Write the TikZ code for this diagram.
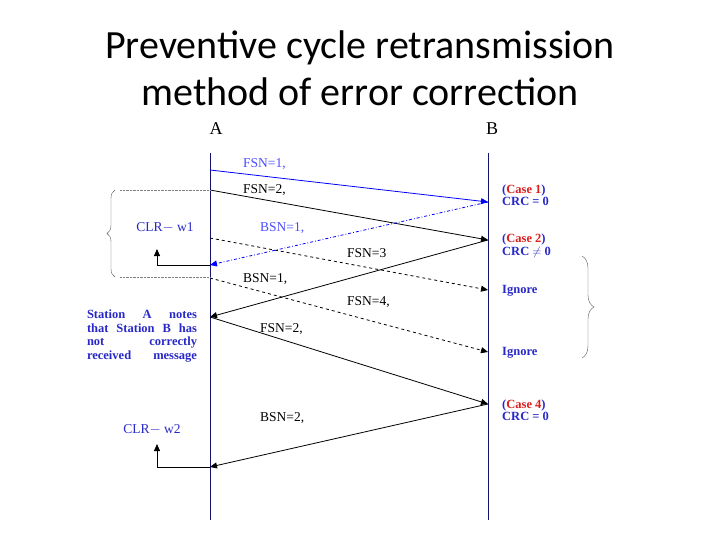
\documentclass[tikz,border=0pt]{standalone}
\usepackage{fontspec}
\setmainfont{Liberation Serif}
\newfontfamily\titlefont{Carlito}
\usetikzlibrary{arrows.meta,decorations.pathreplacing}
\definecolor{lblue}{RGB}{40,40,200}
\definecolor{lred}{RGB}{220,30,30}
\definecolor{navy}{RGB}{20,20,110}
\newcommand{\jline}[1]{\makebox[110pt][s]{#1}}
\tikzset{
  lbl/.style={font=\fontsize{13.5}{14}\selectfont,inner sep=0pt},
  blbl/.style={anchor=west,align=left,inner sep=0pt,text=lblue,font=\fontsize{12.5}{12.5}\selectfont\bfseries},
  msg/.style={line width=0.8pt,-{Triangle[length=7pt,width=6pt]}},
  life/.style={draw=navy,line width=0.9pt}
}
\begin{document}
\begin{tikzpicture}[x=1pt,y=-1pt]
\useasboundingbox (0,0) rectangle (720,540);
\node[font=\titlefont\fontsize{40}{47}\selectfont,align=center] (t) at (360,68) {Preventive cycle retransmission\\method of error correction};
\node[font=\fontsize{18}{18}\selectfont] (A) at (216,129) {A};
\node[font=\fontsize{18}{18}\selectfont] (B) at (492,129) {B};
\coordinate (At) at (210,153); \coordinate (Ab) at (210,520);
\coordinate (Bt) at (488,153); \coordinate (Bb) at (488,520);
\draw[life] (At) -- (Ab);
\draw[life] (Bt) -- (Bb);
\foreach \n/\x/\y in {a1/210/170,b1/488/202,a2/210/190,b2/488/240,a3/210/265,a4/210/238,b3/488/290,a5/210/317,a6/210/278,b4/488/352,b5/488/404,a7/210/467}
  \coordinate (\n) at (\x,\y);
\draw[msg,blue] (a1) -- (b1);
\draw[msg] (a2) -- (b2);
\draw[msg,blue,dash dot] (b1) -- (a3);
\draw[msg,dashed] (a4) -- (b3);
\draw[msg] (b2) -- (a5);
\draw[msg,dashed] (a6) -- (b4);
\draw[msg] (a5) -- (b5);
\draw[msg] (b5) -- (a7);
\node[lbl,blue!70,anchor=west] (l1) at (243,164) {FSN=1,};
\node[lbl,anchor=west] (l2) at (243,190) {FSN=2,};
\node[lbl,blue!70,anchor=west] (l3) at (260,228) {BSN=1,};
\node[lbl,anchor=west] (l4) at (347,253) {FSN=3};
\node[lbl,anchor=west] (l5) at (243,279) {BSN=1,};
\node[lbl,anchor=west] (l6) at (347,302) {FSN=4,};
\node[lbl,anchor=west] (l7) at (260,329) {FSN=2,};
\node[lbl,anchor=west] (l8) at (260,418) {BSN=2,};
\node[blbl] (c1) at (502,195) {(\textcolor{lred}{Case 1})\\CRC = 0};
\node[blbl] (c2) at (502,246) {(\textcolor{lred}{Case 2})\\CRC $\neq$ 0};
\node[blbl] (i1) at (502,291) {Ignore};
\node[blbl] (i2) at (502,353) {Ignore};
\node[blbl] (c4) at (502,410) {(\textcolor{lred}{Case 4})\\CRC = 0};
\draw[gray!70!black,decorate,decoration={brace,amplitude=12pt}] (582,256) -- (582,358);
\node[lbl,text=lblue] (w1) at (165,228) {CLR$-$ w1};
\node[lbl,text=lblue] (w2) at (152,430) {CLR$-$ w2};
\coordinate (w1a) at (157,249); \coordinate (w2a) at (157,444);
\draw[msg] (a3) -| (w1a);
\draw[msg] (a7) -| (w2a);
\coordinate (d1) at (120,190); \coordinate (d2) at (120,277); \coordinate (a8) at (210,277);
\draw[densely dotted,gray] (d1) -- (a2);
\draw[densely dotted,gray] (d2) -- (a8);
\draw[gray!70!black,decorate,decoration={brace,amplitude=8pt}] (115,277) -- (115,190);
\node[text=lblue,align=left,inner sep=0pt,font=\fontsize{12.5}{13.5}\selectfont\bfseries] (st) at (142,336) {\jline{Station A notes}\\\jline{that Station B has}\\\jline{not correctly}\\\jline{received message}};
\end{tikzpicture}
\end{document}
